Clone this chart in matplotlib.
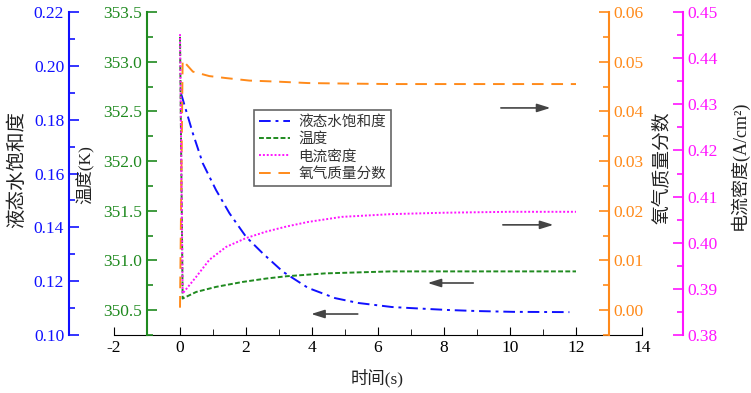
import matplotlib
matplotlib.use("Agg")
import matplotlib.pyplot as plt
from matplotlib.ticker import MultipleLocator

# fonts: Times-like digits, CJK fallback
plt.rcParams['font.family'] = ['Liberation Serif', 'Noto Sans CJK SC', 'DejaVu Sans']
plt.rcParams['axes.unicode_minus'] = False

# data
t_sat = [0.03, 0.39, 0.69, 1.09, 1.50, 2.0, 2.51, 3.12, 3.88, 4.7, 5.4, 6.42, 7.0, 8.1, 9.0, 10.1, 11.8]
sat = [0.1898, 0.1749, 0.1638, 0.1539, 0.1452, 0.1365, 0.1303, 0.1235, 0.1175, 0.1137, 0.1119,
       0.1104, 0.1100, 0.1093, 0.1089, 0.1086, 0.1085]

t_temp = [0, 0.08, 0.49, 1.09, 1.9, 2.61, 3.22, 4.4, 5.4, 6.4, 8, 10, 12]
temp = [353.25, 350.617, 350.683, 350.734, 350.784, 350.818, 350.841, 350.87, 350.88, 350.89,
        350.89, 350.89, 350.89]

t_cur = [0, 0.08, 0.49, 0.89, 1.40, 2.0, 2.61, 3.22, 3.88, 4.9, 6.42, 8, 10, 12]
cur = [0.4452, 0.3890, 0.3926, 0.3963, 0.3991, 0.4010, 0.4024, 0.4035, 0.4045, 0.4056, 0.4062,
       0.4065, 0.4067, 0.4067]

t_o2 = [0, 0.08, 0.39, 0.89, 1.4, 2.1, 2.91, 3.88, 5, 6.4, 8, 10, 12]
o2 = [0.0005, 0.0503, 0.0480, 0.0471, 0.0467, 0.0462, 0.0460, 0.0457, 0.0456, 0.0455,
      0.0455, 0.0455, 0.0455]

labels = ['液态水饱和度', '温度', '电流密度', '氧气质量分数']

c_blue = '#1010FF'
c_green = '#1F8A1F'
c_orange = '#FF8A1A'
c_mag = '#FF14FF'

fig = plt.figure(figsize=(7.51, 3.93), dpi=100)
ax = fig.add_axes([114 / 751, 58 / 393, 528 / 751, 323 / 393])

# main x axis only
ax.set_xlim(-2, 14)
ax.xaxis.set_major_locator(MultipleLocator(2))
ax.xaxis.set_minor_locator(MultipleLocator(1))
ax.tick_params(axis='x', which='both', direction='in', labelsize=12.5)
ax.tick_params(axis='x', which='major', length=6)
ax.tick_params(axis='x', which='minor', length=4)
ax.set_yticks([])
for s in ['left', 'right', 'top']:
    ax.spines[s].set_visible(False)
ax.patch.set_visible(False)


def make_axis(side, pos, color, lims, major, minor):
    a = ax.twinx()
    for s in ['left', 'right', 'top', 'bottom']:
        a.spines[s].set_visible(False)
    a.spines[side].set_visible(True)
    a.spines[side].set_position(('axes', pos))
    a.spines[side].set_color(color)
    a.spines[side].set_linewidth(1.5)
    if side == 'left':
        a.yaxis.tick_left()
    else:
        a.yaxis.tick_right()
    a.set_ylim(*lims)
    a.yaxis.set_major_locator(MultipleLocator(major))
    a.yaxis.set_minor_locator(MultipleLocator(minor))
    a.tick_params(axis='y', which='both', direction='in', colors=color, labelsize=12.5, width=1.2)
    a.tick_params(axis='y', which='major', length=7)
    a.tick_params(axis='y', which='minor', length=4)
    return a


ax_sat = make_axis('left', -45 / 528, c_blue, (0.10, 0.22), 0.02, 0.01)
ax_temp = make_axis('left', 1 / 16, c_green, (350.25, 353.5), 0.5, 0.25)
ax_o2 = make_axis('right', 15 / 16, c_orange, (-0.005, 0.06), 0.01, 0.005)
ax_cur = make_axis('right', 569 / 528, c_mag, (0.38, 0.45), 0.01, 0.005)

ax_sat.yaxis.set_major_formatter(lambda v, p: f"{v:.2f}")
ax_temp.yaxis.set_major_formatter(lambda v, p: f"{v:.1f}")
ax_o2.yaxis.set_major_formatter(lambda v, p: f"{v:.2f}")
ax_cur.yaxis.set_major_formatter(lambda v, p: f"{v:.2f}")

l1, = ax_sat.plot(t_sat, sat, color=c_blue, lw=1.4, dashes=[6, 2.5, 1.5, 2.5])
l2, = ax_temp.plot(t_temp, temp, color=c_green, lw=1.4, dashes=[2.5, 1.2])
l3, = ax_cur.plot(t_cur, cur, color=c_mag, lw=1.4, dashes=[1, 1])
l4, = ax_o2.plot(t_o2, o2, color=c_orange, lw=1.4, dashes=[6, 4])

leg = ax_cur.legend([l1, l2, l3, l4], labels, loc='upper left',
                    bbox_to_anchor=(254 / 751, 1 - 110 / 393), bbox_transform=fig.transFigure,
                    borderaxespad=0,
                    prop={'family': ['Noto Sans CJK SC'], 'size': 10.5},
                    handlelength=2.1, labelspacing=0.22, borderpad=0.35, handletextpad=0.6,
                    fancybox=False, edgecolor='#666666', framealpha=1)
leg.get_frame().set_linewidth(1.2)
for t in leg.get_texts():
    t.set_color('#333333')

# arrows pointing to each curve's axis
arrow_style = dict(arrowstyle='-|>,head_length=0.8,head_width=0.25', color='#444444', lw=1.2)
for x0, x1, yf in [(9.64, 11.31, 0.703), (9.70, 11.40, 0.341), (8.97, 7.42, 0.161), (5.47, 3.89, 0.065)]:
    ax_cur.annotate('', xy=(x1, yf), xytext=(x0, yf),
                    xycoords=('data', 'axes fraction'), textcoords=('data', 'axes fraction'),
                    arrowprops=arrow_style)

# axis titles
txt = '#222222'
fig.text(17 / 751, 1 - 170 / 393, '液态水饱和度', rotation=90, ha='center', va='center', fontsize=14, color=txt)
fig.text(85 / 751, 1 - 175 / 393, '温度(K)', rotation=90, ha='center', va='center', fontsize=12.5, color=txt)
fig.text(377 / 751, 1 - 378 / 393, '时间(s)', ha='center', va='center', fontsize=12.5, color=txt)
fig.text(662 / 751, 1 - 168 / 393, '氧气质量分数', rotation=90, ha='center', va='center', fontsize=13.5, color=txt)
fig.text(739 / 751, 1 - 165 / 393, '电流密度(A/cm²)', rotation=90, ha='center', va='center', fontsize=13, color=txt)

fig.savefig('out.png', dpi=100)
